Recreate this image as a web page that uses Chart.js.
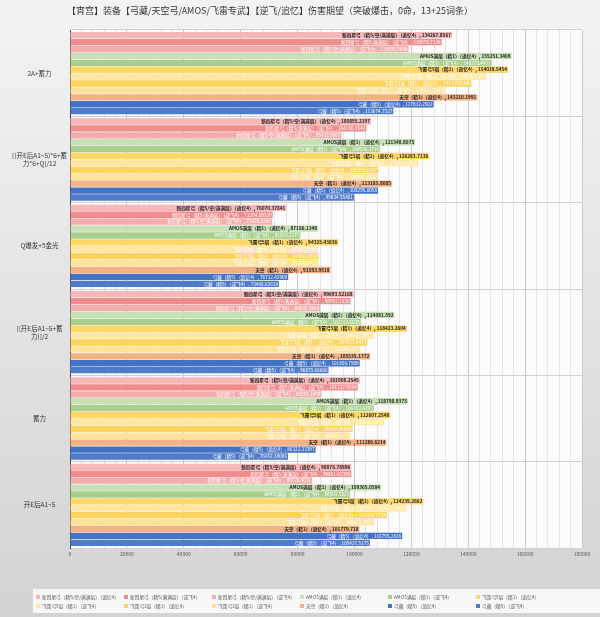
<!DOCTYPE html>
<html>
<head>
<meta charset="utf-8">
<script src="https://cdn.jsdelivr.net/npm/chart.js@4"></script>
<style>
html, body { margin: 0; padding: 0; width: 600px; height: 617px; overflow: hidden; background: #e6e6e6; }
</style>
</head>
<body>
<canvas id="myChart" width="600" height="617"></canvas>
<script>
const titleText = '【宵宫】装备【弓藏/天空弓/AMOS/飞雷专武】【逆飞/追忆】伤害期望（突破爆击，0命，13+25词条）';

const categories = [
    '2A+蓄力',
    ['[(开E后A1~5)*6+蓄', '力*6+Q]/12'],
    'Q爆发+5金光',
    ['[(开E后A1~5+蓄', '力)]/2'],
    '蓄力',
    '开E后A1~5'
];

const seriesNames = [
    '新四星弓（精5/空/满满层）（追忆4）',
    '新四星弓（精5/满满层）（逆飞4）',
    '新四星弓（精5/空/满满层）（逆飞4）',
    'AMOS满层（精1）（追忆4）',
    'AMOS满层（精1）（逆飞4）',
    '飞雷弓5层（精1）（追忆4）',
    '飞雷弓5层（精1）（逆飞4）',
    '飞雷弓3层（精1）（追忆4）',
    '飞雷弓3层（精1）（逆飞4）',
    '天空（精1）（追忆4）',
    '弓藏（精5）（追忆4）',
    '弓藏（精5）（逆飞4）'
];

// one array per series, in category order
const xinSiXingZhuiyi = [134267.8567, 105855.2197, 76070.37841, 99693.52168, 101908.2545, 98876.78896];
const xinSiXingNifei = [130676.7126, 104180.3542, 71254.89529, 98592.1836, 101132.9264, 98861.61399];
const xinSiXingKongNifei = [119005.5648, 95432.9067, 71070.6342, 88005.5648, 88374.1659, 85126.9031];
const amosZhuiyi = [155251.3469, 121348.8075, 87186.1348, 114081.592, 118798.9375, 109365.0584];
const amosNifei = [148273.4421, 109026.3716, 81015.2177, 102212.6035, 106782.4297, 98501.5523];
const feilei5Zhuiyi = [154028.5454, 126283.7136, 94325.43836, 118423.2604, 112607.2548, 124239.2662];
const feilei5Nifei = [146362.311, 122414.5521, 87060.2284, 106787.0612, 110540.1893, 118212.4451];
const feilei3Zhuiyi = [141130.8206, 108358.6347, 87366.2934, 104517.4423, 99314.38658, 111426.7734];
const feilei3Nifei = [131522.5318, 108002.2906, 87260.2912, 102061.527, 98510.6275, 106873.2919];
const tiankongZhuiyi = [143210.1991, 113183.8085, 91593.9518, 105535.1772, 111286.6214, 101779.718];
const gongcangZhuiyi = [127812.2502, 108295.0058, 76712.42909, 101856.7989, 86322.33397, 116795.2828];
const gongcangNifei = [113674.7527, 99834.55401, 73468.62618, 90879.60686, 76652.39086, 105427.5175];

const seriesValues = [
    xinSiXingZhuiyi, xinSiXingNifei, xinSiXingKongNifei,
    amosZhuiyi, amosNifei,
    feilei5Zhuiyi, feilei5Nifei, feilei3Zhuiyi, feilei3Nifei,
    tiankongZhuiyi, gongcangZhuiyi, gongcangNifei
];

const seriesColors = [
    '#f5b7b7', '#ef8c8c', '#f4abab',
    '#c7e0b6', '#a9cf8f',
    '#fdd867', '#ffe7a3', '#fbd35f', '#ffe29a',
    '#f4b183', '#4472c4', '#4f7bcb'
];
const labelColors = [
    '#222', '#fff', '#fff',
    '#222', '#fff',
    '#222', '#fff', '#fff', '#fff',
    '#222', '#fff', '#fff'
];

const FONT = '"Noto Sans CJK SC", "Noto Sans", sans-serif';

const backdrop = {
    id: 'backdrop',
    beforeDraw(chart) {
        const {ctx, chartArea: a} = chart;
        ctx.save();
        const g = ctx.createLinearGradient(0, 0, 0, chart.height);
        g.addColorStop(0, '#f3f3f3');
        g.addColorStop(1, '#d3d3d3');
        ctx.fillStyle = g;
        ctx.fillRect(0, 0, chart.width, chart.height);
        ctx.fillStyle = '#fbfbfb';
        ctx.fillRect(a.left, a.top, a.right - a.left, a.bottom - a.top);
        ctx.restore();
    }
};

const barLabels = {
    id: 'barLabels',
    afterDatasetsDraw(chart) {
        const ctx = chart.ctx;
        ctx.save();
        ctx.textAlign = 'right';
        ctx.textBaseline = 'middle';
        chart.data.datasets.forEach((ds, i) => {
            const meta = chart.getDatasetMeta(i);
            const dark = labelColors[i] !== '#fff';
            ctx.font = (dark ? 'bold ' : '') + '4.7px ' + FONT;
            ctx.fillStyle = labelColors[i];
            meta.data.forEach((bar, j) => {
                ctx.fillText(seriesNames[i] + ', ' + ds.data[j], bar.x - 1, bar.y);
            });
        });
        ctx.restore();
    }
};

const titleAndLegend = {
    id: 'titleAndLegend',
    afterDraw(chart) {
        const ctx = chart.ctx;
        ctx.save();
        ctx.font = '9px ' + FONT;
        ctx.fillStyle = '#333';
        ctx.textBaseline = 'middle';
        ctx.fillText(titleText, 67, 11);

        ctx.fillStyle = '#f7f7f7';
        ctx.fillRect(33, 589, 567, 24);
        const cols = [36, 124, 212, 300, 388, 476];
        const rows = [597, 606];
        ctx.font = '4.7px ' + FONT;
        seriesNames.forEach((name, i) => {
            const x = cols[i % 6];
            const y = rows[Math.floor(i / 6)];
            ctx.fillStyle = seriesColors[i];
            ctx.fillRect(x, y - 2, 4, 4);
            ctx.fillStyle = '#555';
            ctx.fillText(name, x + 6, y);
        });
        ctx.restore();
    }
};

const ctx = document.getElementById('myChart').getContext('2d');
const myChart = new Chart(ctx, {
    type: 'bar',
    data: {
        labels: categories,
        datasets: seriesValues.map((vals, i) => ({
            label: seriesNames[i],
            data: vals,
            backgroundColor: seriesColors[i],
            categoryPercentage: 0.96,
            barPercentage: 0.92
        }))
    },
    options: {
        indexAxis: 'y',
        responsive: false,
        animation: false,
        devicePixelRatio: 1,
        layout: { padding: { top: 30, left: 2, right: 18, bottom: 55 } },
        plugins: {
            legend: { display: false },
            title: { display: false },
            tooltip: { enabled: false }
        },
        scales: {
            x: {
                min: 0,
                max: 180000,
                ticks: {
                    stepSize: 4000,
                    autoSkip: false,
                    maxRotation: 0,
                    padding: 3,
                    color: '#555',
                    font: { size: 5, family: FONT },
                    callback: v => (v % 20000 === 0 ? String(v) : '')
                },
                grid: {
                    drawTicks: false,
                    color: c => (c.tick && c.tick.value % 20000 === 0 ? '#c9c9c9' : '#e4e4e4')
                },
                border: { display: false },
                afterFit(s) { s.height = 14; }
            },
            y: {
                ticks: {
                    crossAlign: 'center',
                    padding: 3,
                    color: '#333',
                    font: { size: 6.5, family: FONT }
                },
                grid: { drawTicks: false, color: '#d0d0d0' },
                border: { color: '#444', width: 1 },
                afterFit(s) { s.width = 68; }
            }
        }
    },
    plugins: [backdrop, barLabels, titleAndLegend]
});
</script>
</body>
</html>
